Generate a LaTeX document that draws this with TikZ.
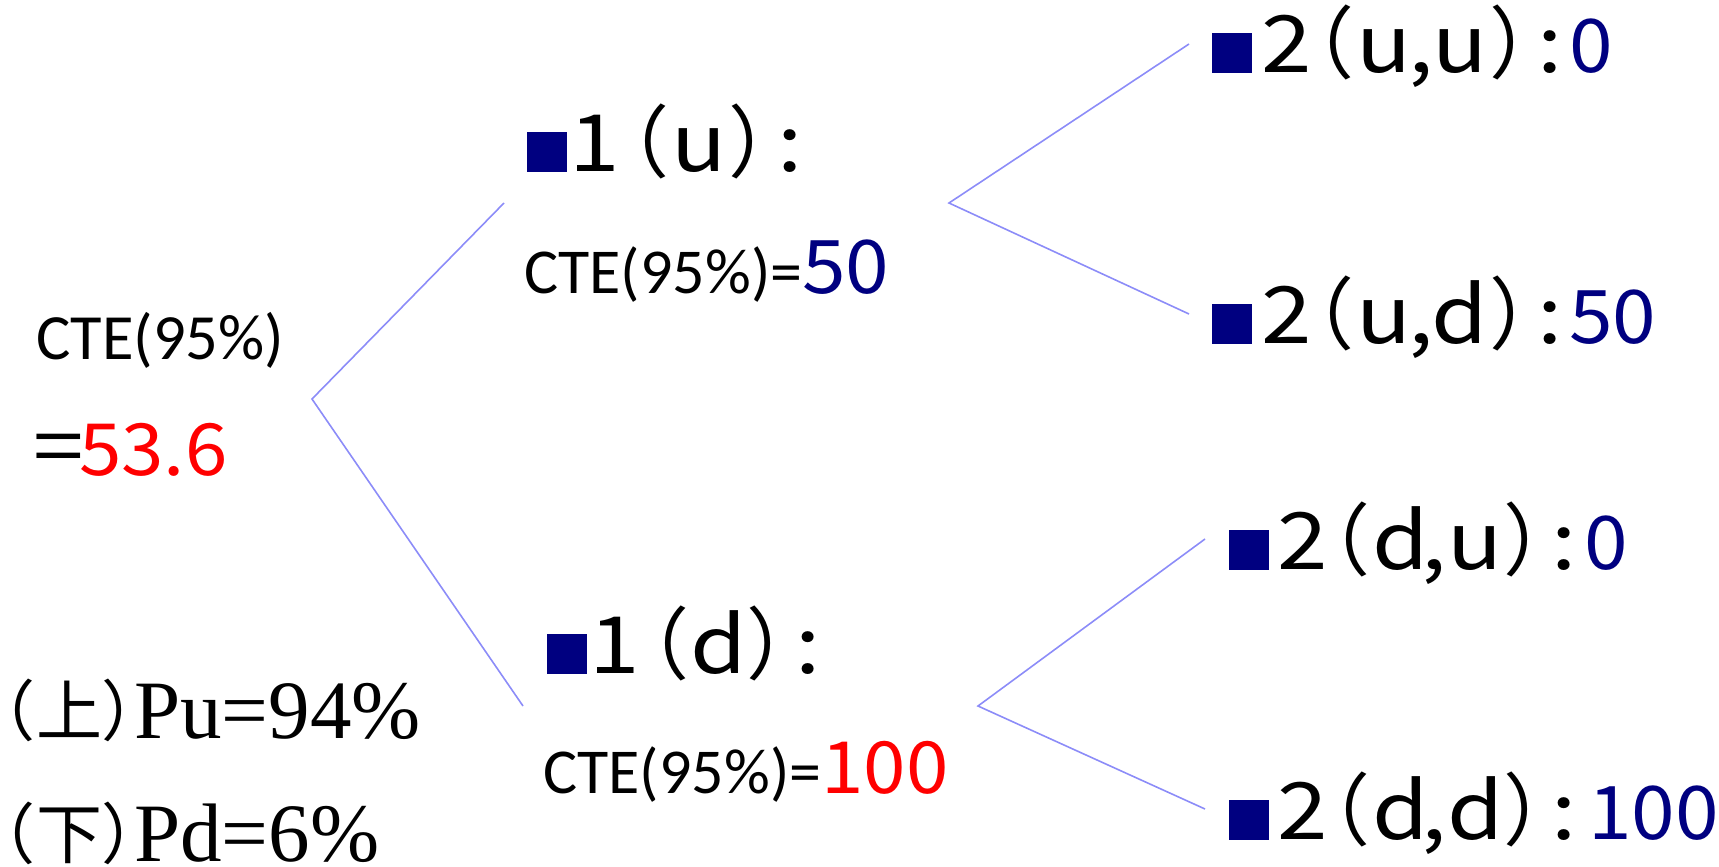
\documentclass[tikz,border=0pt]{standalone}
\usepackage{fontspec}
\newfontfamily\jpplain{Noto Sans CJK JP}
\newfontfamily\latfont[FakeStretch=1.15]{Noto Sans CJK JP}
\newfontfamily\numfont[FakeStretch=1.06]{Noto Sans CJK JP}
\newfontfamily\calfont{Carlito}
\newfontfamily\serfont{Liberation Serif}
\definecolor{navy}{HTML}{000080}
\definecolor{branchblue}{RGB}{140,140,248}
\newdimen\inkl \newdimen\inkr \newbox\inkbox
% typeset character #1 so that its ink is centred on the current point
\newcommand\inkc[1]{%
  \setbox\inkbox=\hbox{#1}%
  \inkl=\XeTeXglyphbounds1 \XeTeXcharglyph`#1\relax
  \inkr=\XeTeXglyphbounds3 \XeTeXcharglyph`#1\relax
  \hspace*{\dimexpr (\inkr-\wd\inkbox-\inkl)/2\relax}\box\inkbox}
\newcommand\gx[2]{\makebox[0pt][l]{\hspace*{#1pt}\inkc{#2}}}
\newcommand\sqat[1]{\makebox[0pt][l]{\hspace*{#1pt}{\jpplain\color{navy}\fontsize{50}{50}\selectfont\inkc{■}}}}
\newcommand\parat[2]{\makebox[0pt][l]{\hspace*{#1pt}{\jpplain\fontsize{79}{79}\selectfont\inkc{#2}}}}
\newcommand\smat[2]{\makebox[0pt][l]{\hspace*{#1pt}\raisebox{3pt}{\jpplain\fontsize{66}{66}\selectfont\inkc{#2}}}}
\newcommand\atx[2]{\makebox[0pt][l]{\hspace*{#1pt}#2}}
\newcommand\bigjp{\latfont\fontsize{79}{79}\selectfont}
\newcommand\navynum[1]{{\numfont\fontsize{74}{74}\selectfont\color{navy}#1}}
\newcommand\ctefont{\calfont\fontsize{64}{64}\selectfont}
\begin{document}
\begin{tikzpicture}[x=1pt,y=-1pt,
  txt/.style={inner sep=0pt, anchor=base west},
  branch/.style={draw=branchblue, line width=1.6pt, line join=miter}]
\useasboundingbox (0,0) rectangle (1719,867);
\node[txt] (r1) at (36,359) {\calfont\fontsize{64.5}{64.5}\selectfont CTE(95\%)};
\node[txt] (r2) at (41,475) {\bigjp\gx{17.5}{=}\atx{38}{\numfont\fontsize{72}{72}\selectfont\color{red}53.6}\hspace*{190pt}};
\node[txt] (pu) at (0,738) {\smat{23.5}{（}\smat{69}{上}\smat{112.5}{）}\atx{134}{\serfont\fontsize{83}{83}\selectfont Pu=94\%}\hspace*{418pt}};
\node[txt] (pd) at (0,861) {\smat{23.5}{（}\smat{69.5}{下}\smat{112.5}{）}\atx{134}{\serfont\fontsize{83}{83}\selectfont Pd=6\%}\hspace*{372pt}};
\node[txt] (u1) at (529,171) {\bigjp\sqat{18.5}\gx{66.5}{1}\parat{126}{（}\gx{170}{u}\parat{213.5}{）}\gx{260.5}{:}\hspace*{266pt}};
\node[txt] (u1v) at (524,293) {\ctefont CTE(95\%)=\numfont\fontsize{74}{74}\selectfont\color{navy}50};
\node[txt] (d1) at (548,673) {\bigjp\sqat{19}\gx{67.5}{1}\parat{127}{（}\gx{168.5}{d}\parat{212}{）}\gx{260}{:}\hspace*{266pt}};
\node[txt] (d1v) at (543,793) {\ctefont CTE(95\%)=\numfont\fontsize{72}{72}\selectfont\color{red}100};
\node[txt] (uu) at (1214,73) {\bigjp\sqat{18.5}\gx{72}{2}\parat{126}{（}\gx{170}{u}\gx{206.5}{,}\gx{245}{u}\parat{289}{）}\gx{335.5}{:}\atx{355}{\navynum{0}}\hspace*{398pt}};
\node[txt] (ud) at (1214,343) {\bigjp\sqat{18.5}\gx{72}{2}\parat{126}{（}\gx{170}{u}\gx{206.5}{,}\gx{244}{d}\parat{289}{）}\gx{335.5}{:}\atx{355}{\navynum{50}}\hspace*{439pt}};
\node[txt] (du) at (1230,569) {\bigjp\sqat{19}\gx{72.5}{2}\parat{126}{（}\gx{168.5}{d}\gx{204}{,}\gx{244}{u}\parat{287}{）}\gx{334}{:}\atx{354}{\navynum{0}}\hspace*{397pt}};
\node[txt] (dd) at (1230,839) {\bigjp\sqat{19}\gx{72.5}{2}\parat{126}{（}\gx{168.5}{d}\gx{204}{,}\gx{244}{d}\parat{287}{）}\gx{334}{:}\atx{358}{\navynum{100}}\hspace*{480pt}};
\coordinate (root) at (312,399);
\coordinate (uE) at (504,203);
\coordinate (dE) at (523,706);
\coordinate (uV) at (949,203);
\coordinate (uuE) at (1189,44);
\coordinate (udE) at (1189,314);
\coordinate (dV) at (978,706);
\coordinate (duE) at (1205,539);
\coordinate (ddE) at (1205,809);
\draw[branch] (uE) -- (root) -- (dE);
\draw[branch] (uuE) -- (uV) -- (udE);
\draw[branch] (duE) -- (dV) -- (ddE);
\end{tikzpicture}
\end{document}
